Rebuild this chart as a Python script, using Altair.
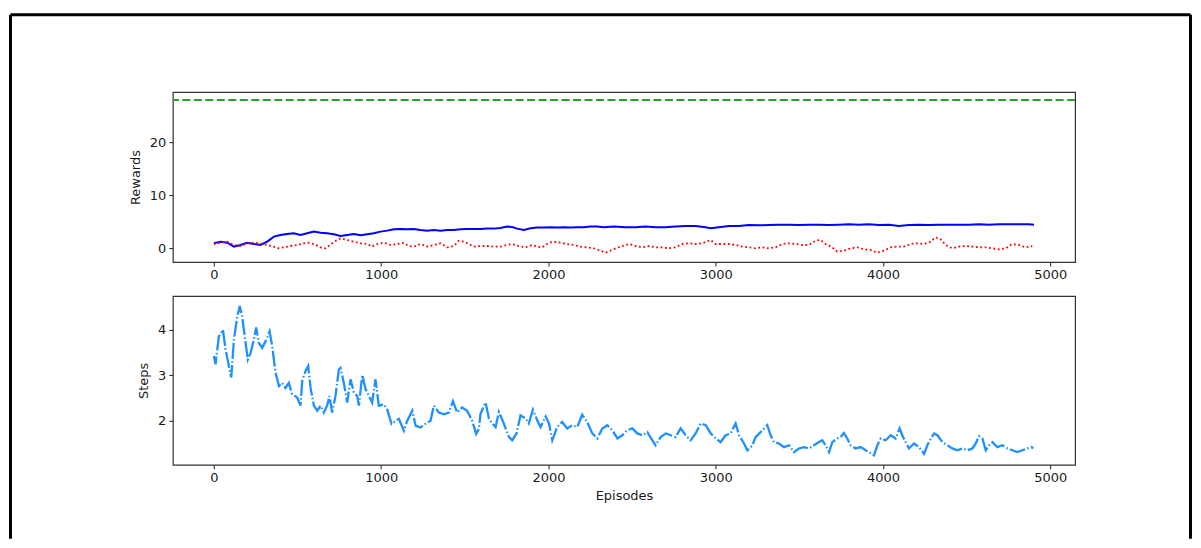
import altair as alt
import pandas as pd

# ---------------- data ----------------
TARGET_REWARD = 28

mean_ep = [0, 40, 80, 120, 159, 199, 239, 279, 319, 359,
           398, 438, 478, 518, 558, 598, 638, 677, 717, 757,
           797, 837, 877, 917, 956, 996, 1036, 1076, 1116, 1156,
           1195, 1235, 1275, 1315, 1355, 1395, 1435, 1474, 1514, 1554,
           1594, 1634, 1674, 1713, 1753, 1783, 1813, 1853, 1893, 1933,
           1972, 2012, 2052, 2092, 2132, 2172, 2211, 2251, 2291, 2331,
           2391,
           2461, 2521, 2581, 2640, 2700, 2760, 2820, 2880, 2939, 2969,
           3019, 3079, 3138, 3198, 3258, 3318, 3377, 3437, 3497, 3557,
           3617, 3676, 3736, 3796, 3856, 3915, 3975, 4035, 4095, 4155,
           4214, 4274, 4334, 4394, 4453, 4513, 4573, 4633, 4693, 4752,
           4812, 4872, 4902]
mean_reward = [0.89, 1.2, 1.0, 0.26, 0.57, 1.0, 0.76, 0.57, 1.2, 2.15,
               2.46, 2.65, 2.78, 2.46, 2.78, 3.1, 2.9, 2.78, 2.59, 2.27,
               2.46, 2.65, 2.4, 2.59, 2.78, 3.1, 3.29, 3.54, 3.6, 3.54,
               3.6, 3.41, 3.29, 3.41, 3.29, 3.41, 3.41, 3.54, 3.6, 3.6,
               3.6, 3.67, 3.67, 3.79, 4.05, 3.98, 3.67, 3.41, 3.73, 3.86,
               3.86, 3.92, 3.86, 3.92, 3.86, 3.92, 3.92, 4.05, 4.05, 3.92,
               4.05,
               3.92, 3.92, 4.05, 3.92, 3.92, 4.05, 4.17, 4.17, 3.92, 3.73,
               3.92, 4.17, 4.17, 4.36, 4.3, 4.36, 4.42, 4.42, 4.36, 4.42,
               4.42, 4.36, 4.42, 4.49, 4.42, 4.49, 4.36, 4.42, 4.17, 4.36,
               4.42, 4.36, 4.42, 4.42, 4.42, 4.42, 4.49, 4.42, 4.49, 4.49,
               4.49, 4.49, 4.42]

recent_ep = [0, 40, 80, 120, 159, 199, 239, 279, 319, 359,
             388, 418, 458, 498, 538, 568, 598, 638, 668, 707,
             737, 757, 797, 837, 877, 917, 946, 976, 1016, 1056,
             1096, 1136, 1165, 1195, 1235, 1275, 1315, 1355, 1395, 1435,
             1464, 1494, 1524, 1554, 1594, 1634, 1674, 1713, 1753, 1783,
             1823, 1863, 1903, 1933, 1962, 2002, 2032, 2072, 2112, 2151,
             2191, 2231, 2271, 2311, 2341, 2381,
             2401, 2441, 2481, 2521, 2561, 2600, 2640, 2680, 2720, 2760,
             2800, 2840, 2880, 2919, 2969, 2999, 3039, 3079, 3119, 3158,
             3198, 3238, 3278, 3318, 3358, 3397, 3437, 3477, 3517, 3557,
             3597, 3627, 3657, 3696, 3726, 3766, 3806, 3846, 3886, 3925,
             3965, 4005, 4045, 4085, 4125, 4165, 4204, 4244, 4284, 4314,
             4344, 4374, 4414, 4453, 4493, 4533, 4573, 4613, 4653, 4693,
             4733, 4772, 4812, 4852, 4892]
recent_reward = [0.76, 1.0, 1.2, 0.57, 0.38, 0.89, 1.0, 0.89, 0.57, 0.26,
                 -0.06, 0.13, 0.38, 0.57, 0.89, 1.0, 0.76, 0.13, -0.06, 0.89,
                 1.52, 1.83, 1.52, 1.2, 0.89, 0.76, 0.26, 0.76, 1.0, 0.57,
                 0.76, 1.0, 0.38, 0.26, 0.76, 0.26, 0.57, 0.89, 0.13, 0.38,
                 1.39, 1.2, 0.76, 0.26, 0.38, 0.38, 0.26, 0.26, 0.57, 0.76,
                 0.38, 0.13, 0.57, 0.26, 0.13, 1.0, 1.2, 1.0, 0.76, 0.57,
                 0.26, 0.13, -0.06, -0.5, -0.88, -0.37,
                 -0.06, 0.38, 0.76, 0.38, 0.13, 0.38, 0.13, 0.13, -0.06, 0.13,
                 0.76, 0.89, 0.76, 0.89, 1.52, 0.76, 0.76, 0.76, 0.57, 0.26,
                 0.13, -0.06, 0.13, -0.06, 0.13, 0.76, 0.89, 0.76, 0.57, 0.57,
                 1.39, 1.52, 0.76, 0.13, -0.68, -0.5, -0.06, 0.13, -0.25, -0.37,
                 -0.88, -0.5, 0.13, 0.26, 0.26, 0.76, 0.89, 0.76, 1.2, 2.02,
                 1.64, 0.57, -0.06, 0.26, 0.38, 0.26, 0.13, 0.13, -0.06, -0.25,
                 -0.06, 0.76, 0.57, 0.13, 0.38]

steps_ep = [0, 10, 30, 54, 70, 86, 104, 120, 140, 155,
            169, 185, 203, 219, 239, 253, 269, 289, 319, 333,
            349, 369, 389, 408, 428, 448, 468, 498, 518, 528,
            548, 564, 578, 598, 618, 638, 657, 677, 691, 707,
            727, 747, 757, 777, 797, 817, 837, 857, 867, 887,
            907, 927, 946, 966, 986, 1016, 1036, 1062, 1086, 1106,
            1136, 1156, 1186, 1206, 1235, 1265, 1295, 1315, 1345, 1375,
            1405, 1429, 1454, 1484, 1514, 1544, 1568, 1584,
            1594, 1624, 1644, 1664, 1684, 1704, 1733, 1763, 1783, 1809,
            1833, 1863, 1883, 1907, 1933, 1953, 1983, 2003, 2023, 2052,
            2082, 2112, 2142, 2172, 2202, 2232, 2262, 2292, 2322, 2352,
            2382, 2412, 2441, 2471, 2501, 2531, 2561, 2591, 2621, 2641,
            2671, 2701, 2731, 2760, 2790, 2820, 2850, 2880, 2910, 2940,
            2970, 3000, 3029, 3059, 3089, 3119, 3139, 3169, 3189, 3219,
            3238, 3268, 3298, 3308, 3328, 3348, 3378, 3408, 3438, 3467,
            3497, 3527, 3557, 3587, 3617, 3637, 3657, 3677, 3697, 3726,
            3746, 3766, 3786, 3806, 3836, 3866, 3896, 3916, 3946, 3966,
            3986, 4016, 4046, 4075, 4099, 4115, 4135, 4155, 4185, 4215,
            4245, 4265, 4285, 4305, 4325, 4355, 4384, 4414, 4444, 4474,
            4504, 4534, 4554, 4574, 4594, 4614, 4634, 4654, 4683, 4713,
            4743, 4773, 4803, 4833, 4863, 4889, 4897]
steps_val = [3.42, 3.24, 3.85, 4.0, 3.57, 3.27, 2.95, 3.78, 4.29, 4.52,
             4.29, 3.85, 3.34, 3.48, 3.78, 4.05, 3.71, 3.6, 3.82, 3.96,
             3.63, 3.05, 2.76, 2.83, 2.72, 2.83, 2.58, 2.51, 2.33, 2.87,
             3.09, 3.2, 2.72, 2.33, 2.22, 2.33, 2.18, 2.33, 2.54, 2.18,
             2.54, 3.12, 3.16, 2.83, 2.4, 2.91, 2.62, 2.54, 2.33, 3.01,
             2.69, 2.54, 2.4, 2.91, 2.33, 2.36, 2.25, 1.93, 2.0, 2.04,
             1.78, 2.0, 2.22, 1.89, 1.85, 1.93, 2.0, 2.33, 2.18, 2.14,
             2.18, 2.43, 2.18, 2.29, 2.22, 2.0, 1.71, 1.82,
             2.15, 2.4, 2.05, 1.94, 1.86, 2.19, 1.94, 1.65, 1.57, 1.72,
             2.12, 2.05, 1.94, 2.24, 2.01, 1.86, 2.09, 1.94, 1.57, 1.86,
             1.97, 1.83, 1.9, 1.86, 2.13, 1.97, 1.72, 1.61, 1.83, 1.9,
             1.79, 1.61, 1.68, 1.79, 1.83, 1.72, 1.68, 1.75, 1.57, 1.46,
             1.64, 1.72, 1.68, 1.64, 1.83, 1.68, 1.57, 1.72, 1.94, 1.9,
             1.72, 1.61, 1.53, 1.68, 1.72, 1.94, 1.68, 1.5, 1.35, 1.46,
             1.64, 1.75, 1.86, 1.9, 1.68, 1.53, 1.5, 1.42, 1.46, 1.31,
             1.39, 1.42, 1.39, 1.46, 1.53, 1.57, 1.46, 1.31, 1.53, 1.61,
             1.64, 1.73, 1.61, 1.46, 1.39, 1.42, 1.35, 1.31, 1.24, 1.46,
             1.61, 1.57, 1.68, 1.61, 1.83, 1.68, 1.53, 1.39, 1.5, 1.42,
             1.27, 1.46, 1.61, 1.72, 1.68, 1.53, 1.46, 1.39, 1.35, 1.39,
             1.35, 1.39, 1.5, 1.66, 1.61, 1.35, 1.46, 1.53, 1.42, 1.46,
             1.39, 1.35, 1.31, 1.35, 1.39, 1.42, 1.39]

x_ticks = [0, 1000, 2000, 3000, 4000, 5000]
reward_ticks = [0, 10, 20]
step_ticks = [2, 3, 4]

# ---------------- chart ----------------
TEXT = "#1a1a1a"
W, H_TOP, H_BOT = 903, 170, 169

mean_df = pd.DataFrame({"ep": mean_ep, "v": mean_reward})
recent_df = pd.DataFrame({"ep": recent_ep, "v": recent_reward})
target_df = pd.DataFrame({"v": [TARGET_REWARD]})
steps_df = pd.DataFrame({"ep": steps_ep, "v": steps_val})

x_scale = alt.Scale(domain=[-245, 5148], nice=False, zero=False)
x_top = alt.X("ep:Q", scale=x_scale,
              axis=alt.Axis(values=x_ticks, format="d", title=None))
y_top = alt.Y("v:Q", scale=alt.Scale(domain=[-2.65, 29.5], nice=False, zero=False),
              axis=alt.Axis(values=reward_ticks, format="d", title="Rewards"))

blue = alt.Chart(mean_df).mark_line(color="#0000ff", strokeWidth=2).encode(x=x_top, y=y_top)
red = alt.Chart(recent_df).mark_line(color="#ff0000", strokeWidth=1.8,
                                     strokeDash=[1.8, 2.6]).encode(x=x_top, y=y_top)
green = alt.Chart(target_df).mark_rule(color="#2ca02c", strokeWidth=2,
                                       strokeDash=[8, 3.5]).encode(y=y_top)

# outer black frame of the picture (decoration)
one = pd.DataFrame({"k": [0]})
frame_top = alt.Chart(one).mark_rule(color="black", strokeWidth=3).encode(
    x=alt.value(-162.5), x2=alt.value(1018.5), y=alt.value(-77.5))
frame_left = alt.Chart(one).mark_rule(color="black", strokeWidth=3).encode(
    x=alt.value(-162.5), y=alt.value(-77.5), y2=alt.value(447))
frame_right = alt.Chart(one).mark_rule(color="black", strokeWidth=3).encode(
    x=alt.value(1018.5), y=alt.value(-77.5), y2=alt.value(447))

top = alt.layer(blue, red, green, frame_top, frame_left, frame_right).properties(
    width=W, height=H_TOP)

x_bot = alt.X("ep:Q", scale=x_scale,
              axis=alt.Axis(values=x_ticks, format="d", title="Episodes"))
y_bot = alt.Y("v:Q", scale=alt.Scale(domain=[1.03, 4.74], nice=False, zero=False),
              axis=alt.Axis(values=step_ticks, format="d", title="Steps"))
bottom = alt.Chart(steps_df).mark_line(
    color="#1e90ff", strokeWidth=2.3, strokeDash=[16, 2.4, 1.5, 2.4]
).encode(x=x_bot, y=y_bot).properties(width=W, height=H_BOT)

chart = alt.vconcat(top, bottom, spacing=34, bounds="flush").properties(
    padding={"left": 0, "top": 4, "right": 0, "bottom": 0},
    background="white",
).configure_view(
    stroke="#333333", strokeWidth=1.2
).configure_axis(
    domain=False, grid=False,
    tickColor="#333333", tickSize=4, tickWidth=1.1,
    labelFont="DejaVu Sans", labelFontSize=13, labelColor=TEXT, labelPadding=3,
    titleFont="DejaVu Sans", titleFontSize=13, titleFontWeight="normal", titleColor=TEXT,
).configure_axisY(titlePadding=7).configure_axisX(titlePadding=5)

chart.save("out.html", embed_options={"renderer": "svg", "actions": False})
